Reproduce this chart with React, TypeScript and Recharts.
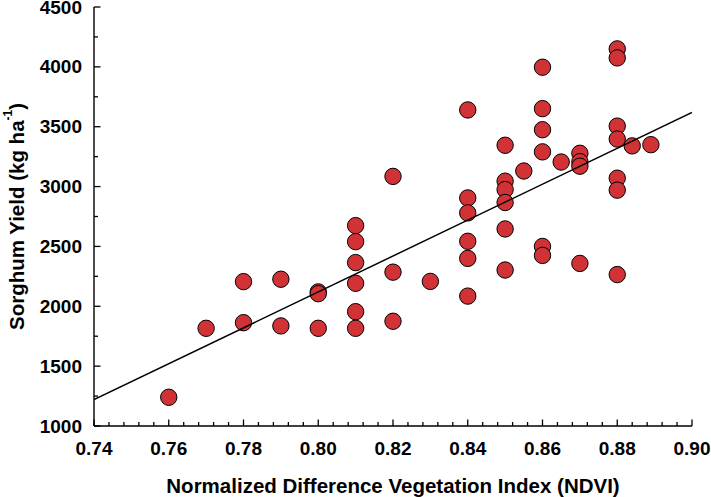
import React from 'react';
import { ScatterChart, Scatter, XAxis, YAxis } from 'recharts';

// ---- data ----
const ndvi = [
  0.76,
  0.77,
  0.78, 0.78,
  0.79, 0.79,
  0.80, 0.80, 0.80,
  0.81, 0.81, 0.81, 0.81, 0.81, 0.81,
  0.82, 0.82, 0.82,
  0.83,
  0.84, 0.84, 0.84, 0.84, 0.84, 0.84,
  0.85, 0.85, 0.85, 0.85, 0.85, 0.85,
  0.855,
  0.86, 0.86, 0.86, 0.86, 0.86, 0.86,
  0.865,
  0.87, 0.87, 0.87, 0.87,
  0.88, 0.88, 0.88, 0.88, 0.88, 0.88, 0.88,
  0.884,
  0.889,
];
const yieldKg = [
  1240,
  1816,
  2206, 1863,
  2226, 1836,
  2120, 2105, 1816,
  2674, 2540, 2365, 2192, 1955, 1816,
  3085, 2285, 1875,
  2208,
  3640, 2905, 2780, 2543, 2400, 2085,
  3345, 3045, 2975, 2867, 2646, 2303,
  3130,
  3997, 3651, 3475, 3290, 2500, 2425,
  3205,
  3278, 3208, 3170, 2358,
  4150, 4075, 3505, 3397, 3070, 2970, 2265,
  3340,
  3350,
];
const fitX = [0.74, 0.9];
const fitY = [1220, 3620];
const r2Label = '0.58';

const xMajorTicks = [0.74, 0.76, 0.78, 0.8, 0.82, 0.84, 0.86, 0.88, 0.9];
const yMajorTicks = [1000, 1500, 2000, 2500, 3000, 3500, 4000, 4500];
const xAllTicks = Array.from({ length: 41 }, (_, i) => +(0.74 + i * 0.004).toFixed(3));
const yAllTicks = Array.from({ length: 15 }, (_, i) => 1000 + i * 250);

const points = ndvi.map((x, i) => ({ x, y: yieldKg[i] }));
const fitData = fitX.map((x, i) => ({ x, y: fitY[i] }));

// ---- style ----
const FONT = '"Liberation Sans", Arial, Helvetica, sans-serif';
const TICK_FS = 19;
const TITLE_FS = 20.5;
const FILL = '#D13236';
const MAJ = 6.5;
const MIN = 4;

const isMajorX = (v: number) => xMajorTicks.some((t) => Math.abs(t - v) < 1e-6);
const isMajorY = (v: number) => yMajorTicks.some((t) => Math.abs(t - v) < 1e-6);

const BottomTick = (props: any) => {
  const { x, y, payload } = props;
  const v = payload.value;
  const major = isMajorX(v);
  return (
    <g>
      <line x1={x} x2={x} y1={y} y2={y - (major ? MAJ : MIN)} stroke="#000" strokeWidth={1.3} />
      {major && (
        <text x={x} y={y + 29} textAnchor="middle" fontFamily={FONT} fontWeight="bold" fontSize={TICK_FS} fill="#000">
          {v.toFixed(2)}
        </text>
      )}
    </g>
  );
};

const TopTick = (props: any) => {
  const { x, y, payload } = props;
  const major = isMajorX(payload.value);
  return <line x1={x} x2={x} y1={y} y2={y + (major ? MAJ : MIN)} stroke="#000" strokeWidth={1.3} />;
};

const LeftTick = (props: any) => {
  const { x, y, payload } = props;
  const v = payload.value;
  const major = isMajorY(v);
  return (
    <g>
      <line x1={x} x2={x + (major ? MAJ : MIN)} y1={y} y2={y} stroke="#000" strokeWidth={1.3} />
      {major && (
        <text x={x - 12} y={y + 6.5} textAnchor="end" fontFamily={FONT} fontWeight="bold" fontSize={TICK_FS} fill="#000">
          {String(v)}
        </text>
      )}
    </g>
  );
};

const RightTick = (props: any) => {
  const { x, y } = props;
  return <line x1={x} x2={x - 5.5} y1={y} y2={y} stroke="#000" strokeWidth={1.3} />;
};

const XTitle = (props: any) => {
  const vb = props.viewBox;
  return (
    <text x={vb.x + vb.width / 2} y={vb.y + 66.5} textAnchor="middle" fontFamily={FONT} fontWeight="bold" fontSize={TITLE_FS} fill="#000">
      Normalized Difference Vegetation Index (NDVI)
    </text>
  );
};

const YTitle = (props: any) => {
  const vb = props.viewBox;
  const cx = vb.x + 16;
  const cy = vb.y + vb.height / 2;
  return (
    <text x={cx} y={cy} transform={`rotate(-90, ${cx}, ${cy})`} textAnchor="middle" dominantBaseline="central" fontFamily={FONT} fontWeight="bold" fontSize={TITLE_FS} fill="#000">
      <tspan>Sorghum Yield (kg ha</tspan>
      <tspan fontSize={12} dy={-8}>-1</tspan>
      <tspan dy={8}>)</tspan>
    </text>
  );
};

const R2Text = (props: any) => {
  const vb = props.viewBox;
  const xr = vb.x - 25;
  const yb = vb.y + vb.height - 29.3;
  return (
    <text x={xr} y={yb} textAnchor="end" fontFamily={FONT} fontWeight="bold" fontSize={17} fill="#000">
      <tspan>R</tspan>
      <tspan fontSize={11} dy={-7}>2</tspan>
      <tspan dy={7} fontWeight="normal"> = </tspan>
      <tspan>{r2Label}</tspan>
    </text>
  );
};

const Dot = (props: any) => {
  const { cx, cy } = props;
  if (cx == null || cy == null) return <g />;
  return <circle cx={cx} cy={cy} r={8.2} fill={FILL} stroke="#000" strokeWidth={1} />;
};

const NoDot = () => <g />;

const axisLine = { stroke: '#000', strokeWidth: 1.4 };

export default function App() {
  return (
    <div style={{ position: 'absolute', left: 0, top: 0, width: 711, height: 497, background: '#fff' }}>
      <ScatterChart width={711} height={497} margin={{ top: 7, right: 19, bottom: 0, left: 0 }}>
        <XAxis
          dataKey="x"
          type="number"
          domain={[0.74, 0.9]}
          ticks={xAllTicks}
          interval={0}
          tickSize={0}
          tickMargin={0}
          tickLine={false}
          axisLine={axisLine}
          height={71}
          tick={<BottomTick />}
          allowDataOverflow
          label={{ content: <XTitle /> }}
        />
        <XAxis
          xAxisId="top"
          orientation="top"
          type="number"
          domain={[0.74, 0.9]}
          ticks={xAllTicks}
          interval={0}
          tickSize={0}
          tickMargin={0}
          tickLine={false}
          axisLine={axisLine}
          height={0}
          tick={<TopTick />}
          allowDataOverflow
        />
        <YAxis
          dataKey="y"
          type="number"
          domain={[1000, 4500]}
          ticks={yAllTicks}
          interval={0}
          tickSize={0}
          tickMargin={0}
          tickLine={false}
          axisLine={axisLine}
          width={94}
          tick={<LeftTick />}
          allowDataOverflow
          label={{ content: <YTitle /> }}
        />
        <YAxis
          yAxisId="right"
          orientation="right"
          type="number"
          domain={[1000, 4500]}
          ticks={yAllTicks}
          interval={0}
          tickSize={0}
          tickMargin={0}
          tickLine={false}
          axisLine={axisLine}
          width={0}
          tick={<RightTick />}
          allowDataOverflow
          label={{ content: <R2Text /> }}
        />
        <Scatter data={points} shape={<Dot />} isAnimationActive={false} />
        <Scatter
          data={fitData}
          line={{ stroke: '#000', strokeWidth: 1.5 }}
          shape={<NoDot />}
          isAnimationActive={false}
        />
      </ScatterChart>
    </div>
  );
}
